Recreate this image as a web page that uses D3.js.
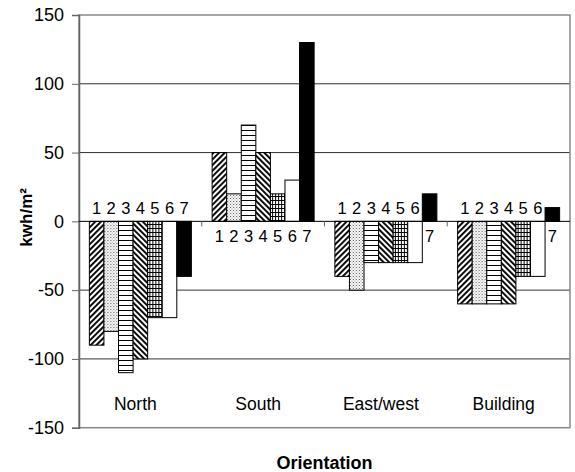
<!DOCTYPE html>
<html>
<head>
<meta charset="utf-8">
<script src="https://cdn.jsdelivr.net/npm/d3@7/dist/d3.min.js"></script>
<style>
  html, body { margin: 0; padding: 0; background: #fff; }
  svg { display: block; font-family: "Liberation Sans", Arial, sans-serif; }
</style>
</head>
<body>
<svg id="chart" width="575" height="472"></svg>
<script>
const categories = ["North", "South", "East/west", "Building"];
const seriesNames = ["1", "2", "3", "4", "5", "6", "7"];
const values = {
  "North":     [-90, -80, -110, -100, -70, -70, -40],
  "South":     [50, 20, 70, 50, 20, 30, 130],
  "East/west": [-40, -50, -30, -30, -30, -30, 20],
  "Building":  [-60, -60, -60, -60, -40, -40, 10]
};
const yTicks = [-150, -100, -50, 0, 50, 100, 150];
const yTitle = "kwh/m²";
const xTitle = "Orientation";

(function () {
const svg = d3.select("#chart");
const pLeft = 79, pRight = 570, pTop = 15, pBottom = 427.7;

const defs = svg.append("defs");
// pattern 1: "/" hatching
const p1 = defs.append("pattern").attr("id", "p1").attr("patternUnits", "userSpaceOnUse")
  .attr("width", 4).attr("height", 4).attr("patternTransform", "rotate(45)");
p1.append("rect").attr("width", 4).attr("height", 4).attr("fill", "#fff");
p1.append("rect").attr("x", 0).attr("width", 1.9).attr("height", 4).attr("fill", "#000");
// pattern 2: dots
const p2 = defs.append("pattern").attr("id", "p2").attr("patternUnits", "userSpaceOnUse")
  .attr("width", 3).attr("height", 3);
p2.append("rect").attr("width", 3).attr("height", 3).attr("fill", "#fff");
p2.append("rect").attr("x", 0).attr("y", 0).attr("width", 1).attr("height", 1).attr("fill", "#555");
p2.append("rect").attr("x", 1.5).attr("y", 1.5).attr("width", 1).attr("height", 1).attr("fill", "#777");
// pattern 3: horizontal lines
const p3 = defs.append("pattern").attr("id", "p3").attr("patternUnits", "userSpaceOnUse")
  .attr("width", 5).attr("height", 5);
p3.append("rect").attr("width", 5).attr("height", 5).attr("fill", "#fff");
p3.append("rect").attr("y", 0).attr("width", 5).attr("height", 1).attr("fill", "#000");
// pattern 4: "\" hatching
const p4 = defs.append("pattern").attr("id", "p4").attr("patternUnits", "userSpaceOnUse")
  .attr("width", 4).attr("height", 4).attr("patternTransform", "rotate(-45)");
p4.append("rect").attr("width", 4).attr("height", 4).attr("fill", "#fff");
p4.append("rect").attr("x", 0).attr("width", 1.9).attr("height", 4).attr("fill", "#000");
// pattern 5: small grid
const p5 = defs.append("pattern").attr("id", "p5").attr("patternUnits", "userSpaceOnUse")
  .attr("width", 3).attr("height", 4);
p5.append("rect").attr("width", 3).attr("height", 4).attr("fill", "#fff");
p5.append("rect").attr("x", 0).attr("width", 1).attr("height", 4).attr("fill", "#000");
p5.append("rect").attr("y", 0).attr("width", 3).attr("height", 1).attr("fill", "#000");

const fills = ["url(#p1)", "url(#p2)", "url(#p3)", "url(#p4)", "url(#p5)", "#fff", "#000"];

const y = d3.scaleLinear().domain([-150, 150]).range([pBottom, pTop]);
const x0 = d3.scaleBand().domain(categories).range([pLeft, pRight]).paddingInner(0.169).paddingOuter(0.0845);
const x1 = d3.scaleBand().domain(seriesNames).range([0, x0.bandwidth()]);
const xCat = d3.scaleBand().domain(categories).range([pLeft, pRight]);

// gridlines
svg.append("g").selectAll("line").data(yTicks.filter(t => t !== 0 && Math.abs(t) !== 150)).join("line")
  .attr("x1", pLeft).attr("x2", pRight)
  .attr("y1", d => y(d)).attr("y2", d => y(d))
  .attr("stroke", "#333").attr("stroke-width", 1);

// plot border
svg.append("rect").attr("x", pLeft).attr("y", pTop).attr("width", pRight - pLeft).attr("height", pBottom - pTop)
  .attr("fill", "none").attr("stroke", "#888").attr("stroke-width", 1.5);

// y axis
const yAxis = d3.axisLeft(y).tickValues(yTicks).tickSize(7).tickPadding(8).tickFormat(d => String(d));
const gy = svg.append("g").attr("transform", `translate(${pLeft},0)`).call(yAxis);
gy.select(".domain").attr("stroke", "#666").attr("stroke-width", 1.5);
gy.selectAll(".tick line").attr("stroke", "#666");
gy.selectAll(".tick text").attr("font-size", 18).attr("fill", "#000").attr("font-family", "'Liberation Sans', Arial, sans-serif");

// bars
const groups = svg.append("g").selectAll("g").data(categories).join("g")
  .attr("transform", d => `translate(${x0(d)},0)`);
groups.selectAll("rect").data(c => values[c].map((v, i) => ({ s: seriesNames[i], v, i })))
  .join("rect")
  .attr("x", d => x1(d.s))
  .attr("width", x1.bandwidth())
  .attr("y", d => y(Math.max(0, d.v)))
  .attr("height", d => Math.abs(y(d.v) - y(0)))
  .attr("fill", d => fills[d.i])
  .attr("stroke", "#000").attr("stroke-width", 1);

// category axis at zero
const xAxisG = svg.append("g").attr("transform", `translate(0,${y(0)})`);
xAxisG.append("line").attr("x1", pLeft).attr("x2", pRight).attr("stroke", "#000").attr("stroke-width", 1);
xAxisG.selectAll("line.tk").data(categories.slice(1)).join("line").attr("class", "tk")
  .attr("x1", d => xCat(d)).attr("x2", d => xCat(d)).attr("y1", 0).attr("y2", 5)
  .attr("stroke", "#666");

// bar number labels
groups.selectAll("text").data(c => values[c].map((v, i) => ({ s: seriesNames[i], v })))
  .join("text")
  .attr("x", d => x1(d.s) + x1.bandwidth() / 2)
  .attr("y", d => d.v < 0 ? y(0) - 7 : y(0) + 21)
  .attr("text-anchor", "middle")
  .attr("font-size", 16.5)
  .text(d => d.s);

// category labels (low position)
svg.append("g").selectAll("text").data(categories).join("text")
  .attr("x", d => xCat(d) + xCat.bandwidth() / 2 - 5)
  .attr("y", 410)
  .attr("text-anchor", "middle")
  .attr("font-size", 17.5)
  .text(d => d);

// axis titles
svg.append("text").attr("x", (pLeft + pRight) / 2).attr("y", 469)
  .attr("text-anchor", "middle").attr("font-size", 18).attr("font-weight", "bold").text(xTitle);
svg.append("text").attr("transform", `translate(32,${(pTop + pBottom) / 2 - 4}) rotate(-90)`)
  .attr("text-anchor", "middle").attr("font-size", 17).attr("font-weight", "bold").text(yTitle);
})();
</script>
</body>
</html>
